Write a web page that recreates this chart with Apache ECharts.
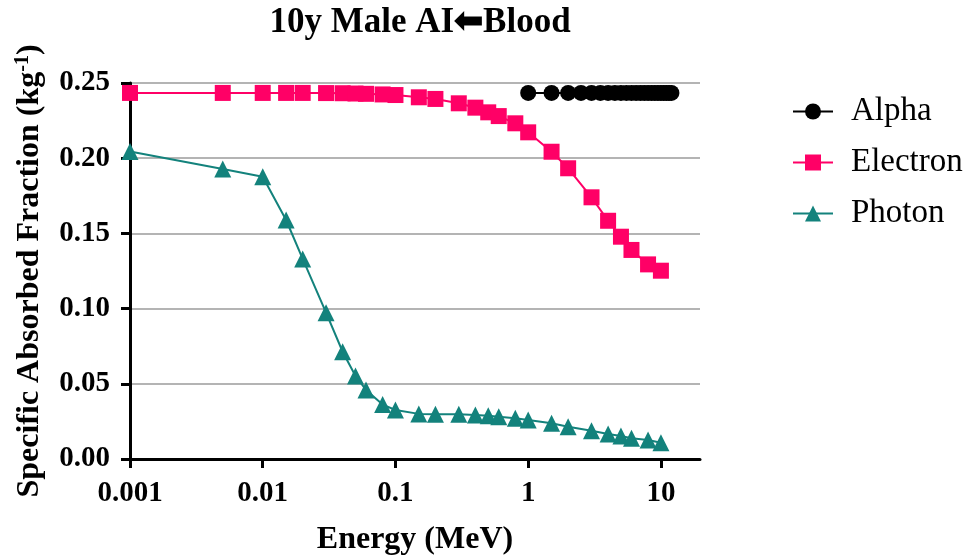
<!DOCTYPE html>
<html><head><meta charset="utf-8">
<script src="https://cdn.jsdelivr.net/npm/echarts@6/dist/echarts.min.js"></script>
<style>html,body{margin:0;padding:0;background:#fff}#c{width:967px;height:556px}</style>
</head><body><div id="c"></div>
<script>
const title = "10y Male AI\u2B05Blood";
const xTickValues = [0.001, 0.01, 0.1, 1, 10];
const yTickValues = [0, 0.05, 0.10, 0.15, 0.20, 0.25];
const energies = [0.001, 0.005, 0.01, 0.015, 0.02, 0.03, 0.04, 0.05, 0.06, 0.08, 0.1, 0.15, 0.2, 0.3, 0.4, 0.5, 0.6, 0.8, 1, 1.5, 2, 3, 4, 5, 6, 8, 10];
const electronValues = [0.2434, 0.2434, 0.2434, 0.2434, 0.2434, 0.2433, 0.2432, 0.2430, 0.2428, 0.2424, 0.2420, 0.2405, 0.2394, 0.2365, 0.2336, 0.2305, 0.2280, 0.2232, 0.2172, 0.2043, 0.1933, 0.1740, 0.1584, 0.1478, 0.1390, 0.1294, 0.1252];
const photonValues = [0.2045, 0.1928, 0.1877, 0.1589, 0.1330, 0.0973, 0.0713, 0.0552, 0.0459, 0.0362, 0.0326, 0.0300, 0.0297, 0.0297, 0.0293, 0.0288, 0.0281, 0.0271, 0.0259, 0.0237, 0.0215, 0.0188, 0.0166, 0.0153, 0.0138, 0.0126, 0.0108];
const alphaEnergies = [1, 1.5, 2, 2.5, 3, 3.5, 4, 4.5, 5, 5.5, 6, 6.5, 7, 7.5, 8, 8.5, 9, 9.5, 10, 10.5, 11, 11.5, 12];
const alphaValues = [0.2434, 0.2434, 0.2434, 0.2434, 0.2434, 0.2434, 0.2434, 0.2434, 0.2434, 0.2434, 0.2434, 0.2434, 0.2434, 0.2434, 0.2434, 0.2434, 0.2434, 0.2434, 0.2434, 0.2434, 0.2434, 0.2434, 0.2434];

const FONT = '"Liberation Serif", "Times New Roman", serif';
const pair = (xs, ys) => xs.map((x, i) => [x, ys[i]]);

const chart = echarts.init(document.getElementById('c'), null, {renderer: 'canvas'});
chart.setOption({
  animation: false,
  backgroundColor: '#fff',
  title: {
    text: title, left: 415, top: 0, textAlign: 'center',
    textStyle: {fontFamily: FONT, fontSize: 35, fontWeight: 'bold', color: '#000'}
  },
  legend: {
    orient: 'vertical', left: 787, top: 90, itemWidth: 40, itemHeight: 20, itemGap: 18,
    textStyle: {fontFamily: FONT, fontSize: 33, color: '#000', padding: [0, 0, 0, 13]},
    data: ['Alpha', 'Electron', 'Photon']
  },
  grid: {left: 130, right: 267, top: 83, bottom: 97, containLabel: false, outerBoundsMode: 'none'},
  xAxis: {
    type: 'log', logBase: 10, min: 0.001, max: 19.7,
    name: 'Energy (MeV)', nameLocation: 'middle', nameGap: 65,
    nameTextStyle: {fontFamily: FONT, fontSize: 32, fontWeight: 'bold', color: '#000'},
    axisLine: {show: true, onZero: false, lineStyle: {color: '#000', width: 3}},
    axisTick: {show: true, length: 9, lineStyle: {color: '#000', width: 3}, customValues: xTickValues},
    minorTick: {show: false},
    splitLine: {show: false},
    axisLabel: {
      customValues: xTickValues, margin: 20,
      fontFamily: FONT, fontSize: 29, fontWeight: 'bold', color: '#000',
      formatter: v => String(+v.toPrecision(6))
    }
  },
  yAxis: {
    type: 'value', min: 0, max: 0.25, interval: 0.05,
    name: '{a|Specific Absorbed Fraction (kg}{s|-1}{a|)}',
    nameLocation: 'middle', nameGap: 83, nameRotate: 90,
    nameTextStyle: {
      fontFamily: FONT, fontSize: 32, fontWeight: 'bold', color: '#000',
      rich: {
        a: {fontFamily: FONT, fontSize: 32, fontWeight: 'bold', color: '#000'},
        s: {fontFamily: FONT, fontSize: 20, fontWeight: 'bold', color: '#000', verticalAlign: 'top', padding: [0, 0, 14, 0]}
      }
    },
    axisLine: {show: true, lineStyle: {color: '#000', width: 3}},
    axisTick: {show: true, length: 9, lineStyle: {color: '#000', width: 3}},
    splitLine: {show: true, lineStyle: {color: '#b4b4b4', width: 2}},
    axisLabel: {
      margin: 20, fontFamily: FONT, fontSize: 29, fontWeight: 'bold', color: '#000',
      formatter: v => v.toFixed(2)
    }
  },
  series: [
    {
      name: 'Alpha', type: 'line', data: pair(alphaEnergies, alphaValues),
      symbol: 'circle', symbolSize: 16, clip: false,
      itemStyle: {color: '#000'}, lineStyle: {color: '#000', width: 2}
    },
    {
      name: 'Electron', type: 'line', data: pair(energies, electronValues),
      symbol: 'rect', symbolSize: 16, clip: false,
      itemStyle: {color: '#FF0066'}, lineStyle: {color: '#FF0066', width: 2}
    },
    {
      name: 'Photon', type: 'line', data: pair(energies, photonValues),
      symbol: 'triangle', symbolSize: 17, clip: false,
      itemStyle: {color: '#13827C'}, lineStyle: {color: '#13827C', width: 2}
    }
  ]
});
</script></body></html>
